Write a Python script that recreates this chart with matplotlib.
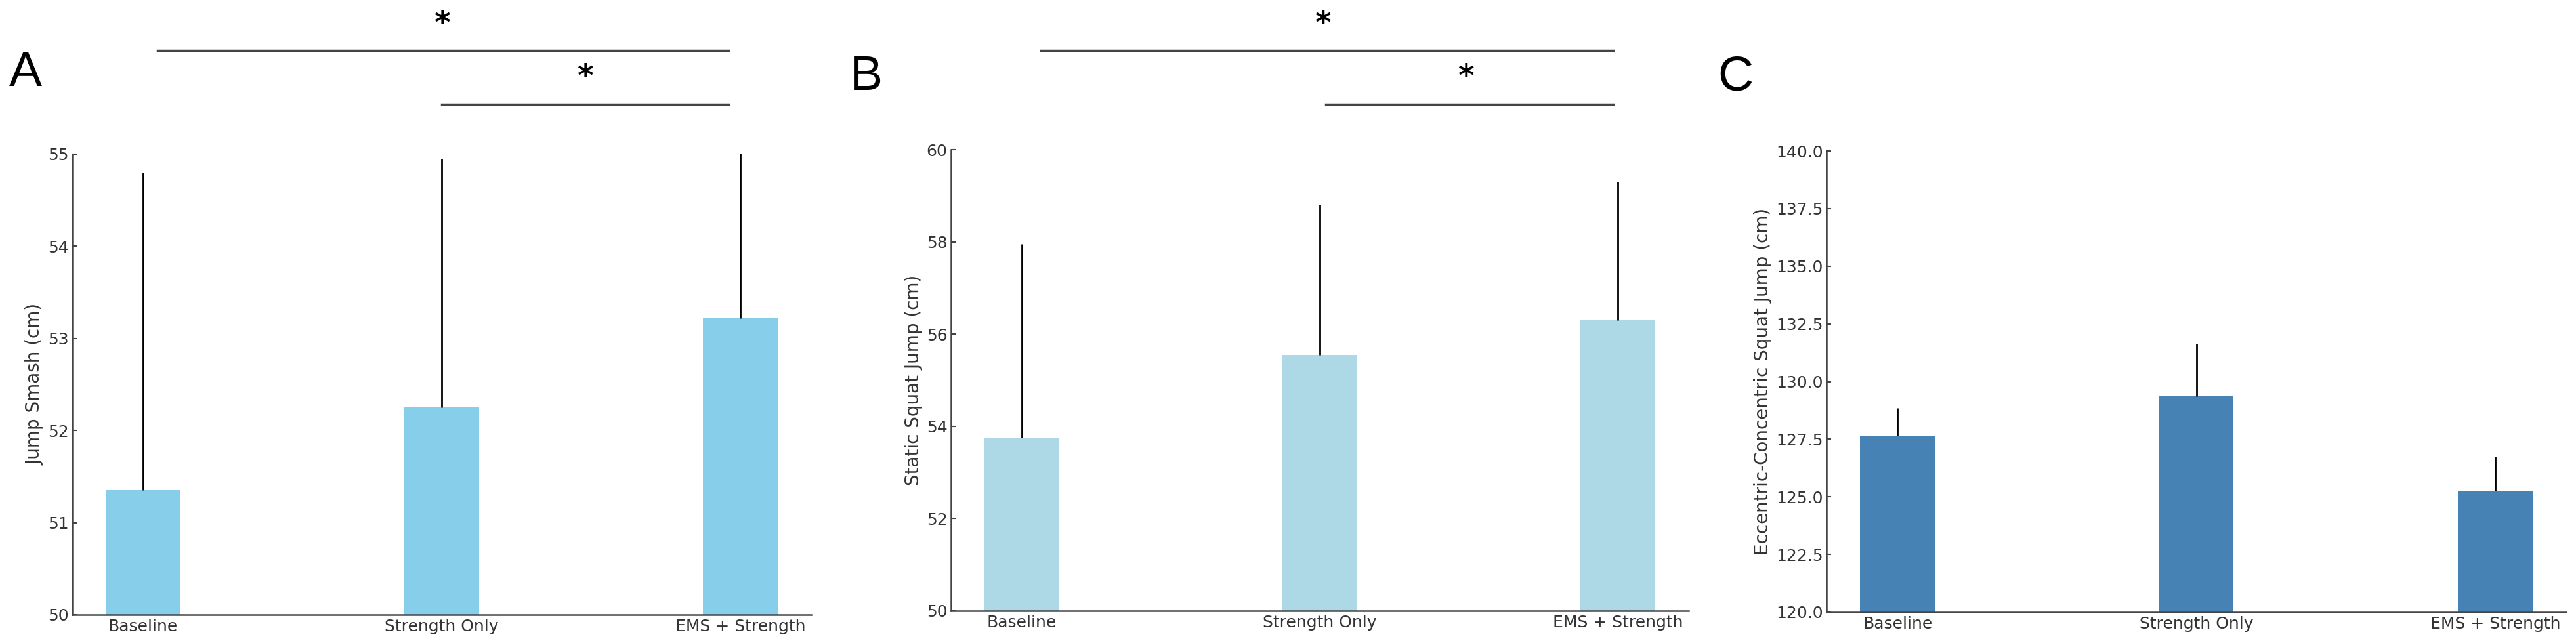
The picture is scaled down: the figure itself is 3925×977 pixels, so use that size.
import numpy as np
import matplotlib
matplotlib.use('Agg')
import matplotlib.pyplot as plt
from matplotlib.transforms import blended_transform_factory

groups = ['Baseline', 'Strength Only', 'EMS + Strength']

# Panel A - jump smash
smash_mean = [51.35, 52.25, 53.22]
smash_sd = [3.45, 2.70, 2.10]

# Panel B - static squat jump
ssj_mean = [53.75, 55.55, 56.30]
ssj_sd = [4.20, 3.25, 3.00]

# Panel C - eccentric-concentric squat jump
ecsj_mean = [127.65, 129.35, 125.25]
ecsj_sd = [1.20, 2.30, 1.50]

W, H, DPI = 3925, 977, 100
fig = plt.figure(figsize=(W / DPI, H / DPI), dpi=DPI)

panels = [
    dict(mean=smash_mean, sd=smash_sd, color='#87CEEB', ylim=(50, 55), yticks=np.arange(50, 55.1, 1),
         ylabel='Jump Smash (cm)', rect=[110 / W, (H - 937) / H, 1126 / W, 702 / H],
         letter='A', letter_xy=(14, 131),
         sig=[(0.048, 1.96, 1.0), (1.0, 1.96, 1.48)]),
    dict(mean=ssj_mean, sd=ssj_sd, color='#ADD8E6', ylim=(50, 60), yticks=np.arange(50, 60.1, 2),
         ylabel='Static Squat Jump (cm)', rect=[1449 / W, (H - 931) / H, 1124 / W, 703 / H],
         letter='B', letter_xy=(1295, 137),
         sig=[(0.064, 1.985, 1.01), (1.02, 1.985, 1.49)]),
    dict(mean=ecsj_mean, sd=ecsj_sd, color='#4682B4', ylim=(120, 140), yticks=np.arange(120, 140.1, 2.5),
         ylabel='Eccentric-Concentric Squat Jump (cm)', rect=[2783 / W, (H - 933) / H, 1127 / W, 703 / H],
         letter='C', letter_xy=(2617, 137), sig=[]),
]

# significance bracket heights in pixels from the top (line, asterisk baseline)
levels = [(77, 50), (159, 131)]

x = np.arange(len(groups))
for p in panels:
    ax = fig.add_axes(p['rect'])
    ax.bar(x, p['mean'], width=0.25, color=p['color'], zorder=2)
    ax.errorbar(x, p['mean'], yerr=[np.zeros(3), p['sd']], fmt='none',
                ecolor='black', elinewidth=2, capsize=0, zorder=3)
    ax.set_ylim(*p['ylim'])
    ax.set_yticks(p['yticks'])
    ax.set_xticks(x)
    ax.set_xticklabels(groups)
    ax.set_ylabel(p['ylabel'], fontsize=20, color='#333333')
    for s in ['top', 'right']:
        ax.spines[s].set_visible(False)
    for s in ['left', 'bottom']:
        ax.spines[s].set_color('#444444')
        ax.spines[s].set_linewidth(1.8)
    ax.tick_params(direction='in', length=5, width=1.5, colors='#444444',
                   labelsize=18, labelcolor='#333333', pad=4)

    trans = blended_transform_factory(ax.transData, fig.transFigure)
    for (x0, x1, xs), (yl, ys) in zip(p['sig'], levels):
        ax.plot([x0, x1], [(H - yl) / H] * 2, color='#444444', lw=2.5, transform=trans, clip_on=False)
        ax.text(xs, (H - ys) / H, '*', ha='center', va='baseline', fontsize=34, fontweight='bold',
                transform=trans)

    fig.text(p['letter_xy'][0] / W, (H - p['letter_xy'][1]) / H, p['letter'],
             fontsize=54, family='Liberation Sans', ha='left', va='baseline')

fig.savefig('out.png', dpi=DPI, facecolor='white')
